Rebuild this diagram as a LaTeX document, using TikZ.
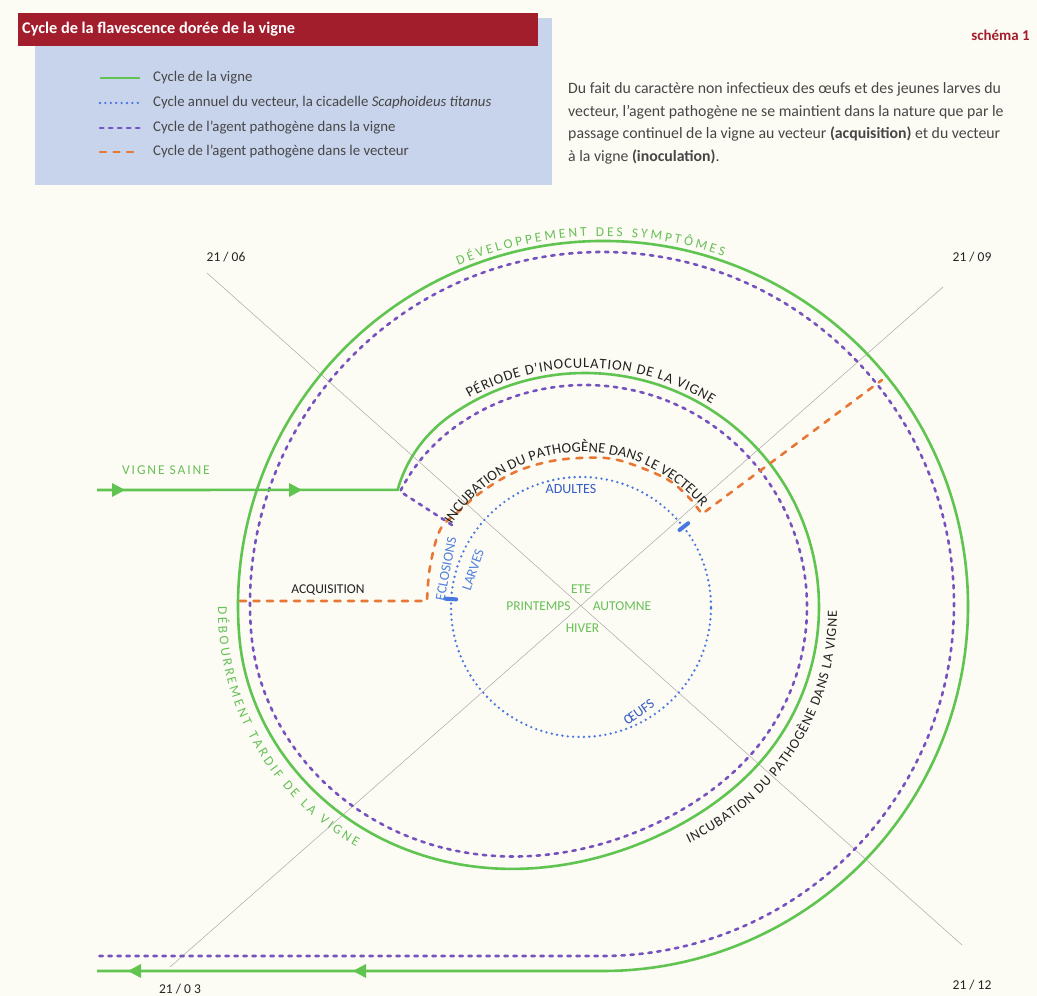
\documentclass[tikz,border=0pt]{standalone}
\usepackage{fontspec}
\setmainfont{Carlito}
\usetikzlibrary{decorations.text,calc}
\definecolor{bgc}{RGB}{252,251,244}
\definecolor{hred}{RGB}{163,30,45}
\definecolor{lblue}{RGB}{200,212,236}
\definecolor{vgreen}{RGB}{96,196,80}
\definecolor{tgreen}{RGB}{104,192,88}
\definecolor{vpurple}{RGB}{118,82,190}
\definecolor{vorange}{RGB}{232,118,52}
\definecolor{vblue}{RGB}{72,120,222}
\definecolor{tblue}{RGB}{52,92,196}
\definecolor{lbluetxt}{RGB}{80,130,220}
\definecolor{txt}{RGB}{35,35,35}
\definecolor{legtxt}{RGB}{70,70,70}
\definecolor{axisgray}{RGB}{170,170,170}
\tikzset{
  greenline/.style={draw=vgreen, line width=2.6pt},
  purpleline/.style={draw=vpurple, line width=2.6pt, line cap=round, dash pattern=on 3.4pt off 5.6pt},
  orangeline/.style={draw=vorange, line width=2.6pt, line cap=round, dash pattern=on 6pt off 7.5pt},
  blueline/.style={draw=vblue, line width=2.6pt, line cap=round, dash pattern=on 0pt off 5.4pt},
  bluemark/.style={draw=vblue, line width=4pt, line cap=round},
  axisline/.style={draw=axisgray, line width=0.5pt},
  garrow/.style={fill=vgreen},
  lab/.style={inner sep=0pt, text=txt, font=\fontsize{13.5}{15}\selectfont},
  seasonlab/.style={inner sep=0pt, text=tgreen, font=\fontsize{13.5}{15}\selectfont},
  vectlab/.style={inner sep=0pt, text=lbluetxt, font=\fontsize{14}{15}\selectfont},
  datelab/.style={inner sep=0pt, text=txt, font=\fontsize{13.5}{15}\selectfont},
  legtext/.style={inner sep=0pt, anchor=west, text=legtxt, font=\fontsize{14.8}{16}\selectfont},
  paratext/.style={inner sep=0pt, anchor=west, text=legtxt, font=\fontsize{15.8}{18}\selectfont},
  declare function={
    Lb(\x)=max(0,min(1,(-40-\x)/135));
    sb(\x)=Lb(\x)^3*(4-3*Lb(\x));
    rg(\x)=234-13*(max(0,(\x-125)/23))^2;
    rp(\x)=222-4*(max(0,(\x-125)/23))^2;
  },
}
\begin{document}
\begin{tikzpicture}[x=1pt,y=1pt]
\useasboundingbox (0,0) rectangle (1037,996);
\fill[bgc] (0,0) rectangle (1037,996);

% legend box and header
\fill[lblue] (35,811) rectangle (552,978);
\fill[hred] (18,950) rectangle (538,983);
\node[inner sep=0pt, anchor=west, text=white, font=\bfseries\fontsize{16.3}{18}\selectfont] (title) at (22,966.5) {Cycle de la flavescence dorée de la vigne};
\node[inner sep=0pt, anchor=east, text=hred, font=\bfseries\fontsize{15}{17}\selectfont] (schema) at (1030,961) {schéma 1};

% legend entries
\coordinate (l1a) at (100,918); \coordinate (l1b) at (140,918);
\coordinate (l2a) at (100,893); \coordinate (l2b) at (140,893);
\coordinate (l3a) at (100,868); \coordinate (l3b) at (140,868);
\coordinate (l4a) at (100,844); \coordinate (l4b) at (140,844);
\draw[greenline] (l1a) -- (l1b);
\draw[blueline] (l2a) -- (l2b);
\draw[purpleline] (l3a) -- (l3b);
\draw[orangeline] (l4a) -- (l4b);
\node[legtext] (lt1) at (153,918) {Cycle de la vigne};
\node[legtext] (lt2) at (153,893) {Cycle annuel du vecteur, la cicadelle \textit{Scaphoideus titanus}};
\node[legtext] (lt3) at (153,868) {Cycle de l’agent pathogène dans la vigne};
\node[legtext] (lt4) at (153,844) {Cycle de l’agent pathogène dans le vecteur};

% paragraph
\node[paratext] (p1) at (568,907) {Du fait du caractère non infectieux des œufs et des jeunes larves du};
\node[paratext] (p2) at (568,884) {vecteur, l’agent pathogène ne se maintient dans la nature que par le};
\node[paratext] (p3) at (568,862) {passage continuel de la vigne au vecteur \textbf{(acquisition)} et du vecteur};
\node[paratext] (p4) at (568,839) {à la vigne \textbf{(inoculation)}.};

% centres
\coordinate (Ci) at (585,389);
\coordinate (Co) at (583,389);
\coordinate (Cg) at (603,390);
\coordinate (Cb) at (581,389);
\coordinate (Cd) at (489.5,386);
\coordinate (Cv) at (581,385);

% diagonal axes
\coordinate (d1a) at (207,723); \coordinate (d1b) at (962,51);
\coordinate (d2a) at (943,709); \coordinate (d2b) at (170,29);
\draw[axisline] (d1a) -- (d1b);
\draw[axisline] (d2a) -- (d2b);

% date labels
\node[datelab] (m06) at (226,739) {21 / 06};
\node[datelab] (m09) at (972,739) {21 / 09};
\node[datelab] (m03) at (180,7) {21 / 0 3};
\node[datelab] (m12) at (972,11) {21 / 12};

% vector cycle (blue)
\draw[blueline] (Cb) circle[radius=130];
\draw[bluemark] ($(Cb)+(176.5:125)$) -- ($(Cb)+(176.5:136)$);
\draw[bluemark] ($(Cb)+(38:125)$) -- ($(Cb)+(38:136)$);

% pathogen in the vine (purple)
\coordinate (ps) at (452,471);
\draw[purpleline] (ps) -- plot[domain=148:-175, samples=220]
  ({(1-sb(\x))*(585+rp(\x)*cos(\x)) + sb(\x)*(602+352*cos(\x))},
   {(1-sb(\x))*(389+rp(\x)*sin(\x)) + sb(\x)*(392+352*sin(\x))})
  arc[start angle=185, end angle=-90, radius=352] -- (97,40);

% vine cycle (green)
\coordinate (gs) at (97,506);
\draw[greenline] (gs) -- plot[domain=148:-175, samples=220]
  ({(1-sb(\x))*(585+rg(\x)*cos(\x)) + sb(\x)*(603+365*cos(\x))},
   {(1-sb(\x))*(389+rg(\x)*sin(\x)) + sb(\x)*(390+365*sin(\x))})
  arc[start angle=185, end angle=-90, radius=365] -- (97,25);
\fill[garrow] (125,506) -- ++(-13,7) -- ++(0,-14) -- cycle;
\fill[garrow] (302,506) -- ++(-13,7) -- ++(0,-14) -- cycle;
\fill[garrow] (128,25) -- ++(13,7) -- ++(0,-14) -- cycle;
\fill[garrow] (353,25) -- ++(13,7) -- ++(0,-14) -- cycle;

% pathogen in the vector (orange)
\coordinate (os) at (240,395);
\coordinate (oe) at (882,616);
\draw[orangeline] (os) -- plot[smooth, tension=0.6] coordinates {(427,395) (430,429) (440,466) (457,483) (480,503) (513,523) (547,534) (580,538) (613,537) (647,526) (673,513) (693,494)} -- (702,482) -- (oe);

% curved labels
\path[decorate, decoration={text along path, text color=txt, text align=fit to path,
  text={|\fontsize{14.5}{16}\selectfont|PÉRIODE D'INOCULATION DE LA VIGNE}}]
  ($(Ci)+(119:239)$) arc[start angle=119, end angle=58, radius=239];
\path[decorate, decoration={text along path, text color=txt, text align=fit to path,
  text={|\fontsize{14.5}{16}\selectfont|INCUBATION DU PATHOGÈNE DANS LE VECTEUR}}]
  ($(Co)+(148:155)$) arc[start angle=148, end angle=40, radius=155];
\path[decorate, decoration={text along path, text color=tgreen, text align=fit to path,
  text={|\fontsize{13.5}{15}\selectfont|DÉVELOPPEMENT DES SYMPTÔMES}}]
  ($(Cg)+(113:370)$) arc[start angle=113, end angle=71, radius=370];
\path[decorate, decoration={text along path, text color=tgreen, text align=fit to path,
  text={|\fontsize{13.5}{15}\selectfont|DÉBOURREMENT TARDIF DE LA VIGNE}}]
  ($(Cd)+(179.2:271.5)$) arc[start angle=179.2, end angle=240.6, radius=271.5];
\path[decorate, decoration={text along path, text color=txt, text align=fit to path,
  text={|\fontsize{14}{15}\selectfont|INCUBATION DU PATHOGÈNE DANS LA VIGNE}}]
  ($(Cv)+(-65:256)$) arc[start angle=-65, end angle=0, radius=256];

% straight labels
\node[inner sep=0pt, text=tgreen, font=\fontsize{13.5}{15}\selectfont\addfontfeature{LetterSpace=14}] (saine) at (166,526) {VIGNE SAINE};
\node[lab] (acq) at (328,406) {ACQUISITION};
\node[seasonlab] (ete) at (581,407) {ETE};
\node[seasonlab] (print) at (538.5,390) {PRINTEMPS};
\node[seasonlab] (aut) at (622,390) {AUTOMNE};
\node[seasonlab] (hiv) at (582.5,368) {HIVER};
\node[vectlab, text=tblue] (adul) at (571,507) {ADULTES};
\node[vectlab, rotate=79] (eclo) at (446,427) {ECLOSIONS};
\node[vectlab, rotate=71] (larv) at (473,426) {LARVES};
\node[vectlab, text=tblue, rotate=35] (oeufs) at (639,284) {ŒUFS};
\end{tikzpicture}
\end{document}
